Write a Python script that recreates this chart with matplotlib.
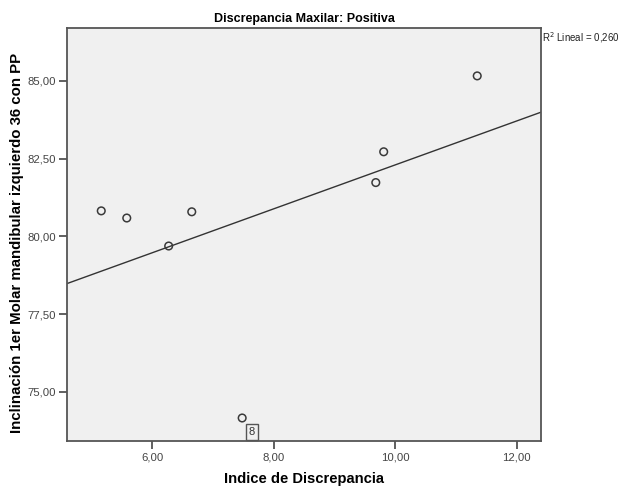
import numpy as np
import matplotlib
matplotlib.use("Agg")
import matplotlib.pyplot as plt

# Data
indice = [5.16, 5.58, 6.27, 6.65, 9.68, 9.81, 11.35, 7.48]
inclinacion = [80.82, 80.59, 79.69, 80.79, 81.73, 82.72, 85.16, 74.16]
case_labels = {7: "8"}
r2_text = "0,260"

x_ticks = [6, 8, 10, 12]
y_ticks = [75.0, 77.5, 80.0, 82.5, 85.0]

plt.rcParams["font.family"] = ["Liberation Sans", "DejaVu Sans"]

fig = plt.figure(figsize=(6.26, 4.91), dpi=100)
ax = fig.add_axes([67 / 626, 1 - 441 / 491, (541 - 67) / 626, (441 - 28) / 491])
ax.set_facecolor("#f0f0f0")

xa = np.array(indice)
ya = np.array(inclinacion)
ax.scatter(xa, ya, s=30, facecolors="none", edgecolors="#3a3a3a", linewidths=1.1, zorder=3)

# linear fit
slope, intercept = np.polyfit(xa, ya, 1)
xl = np.array([4.596, 12.40])
ax.plot(xl, slope * xl + intercept, color="#333333", lw=1.0, zorder=2)

for i, lab in case_labels.items():
    ax.annotate(lab, (xa[i], ya[i]), xytext=(7, -10), textcoords="offset points",
                fontsize=8, color="#333333", ha="center", va="center",
                bbox=dict(boxstyle="square,pad=0.25", fc="#f0f0f0", ec="#555555", lw=1.0))

ax.set_xlim(4.596, 12.40)
ax.set_ylim(73.42, 86.70)
ax.set_xticks(x_ticks)
ax.set_xticklabels([f"{v:.2f}".replace(".", ",") for v in x_ticks])
ax.set_yticks(y_ticks)
ax.set_yticklabels([f"{v:.2f}".replace(".", ",") for v in y_ticks])
ax.tick_params(direction="out", length=6, width=1.2, colors="#444444", labelsize=8.2,
               labelcolor="#444444", pad=2)

for s in ax.spines.values():
    s.set_color("#555555")
    s.set_linewidth(1.3)

ax.set_title("Discrepancia Maxilar: Positiva", fontsize=9, fontweight="bold", pad=4)
ax.set_xlabel("Indice de Discrepancia", fontsize=10.6, fontweight="bold", va="center")
ax.xaxis.set_label_coords(0.5, (441 - 479) / 413)
ax.set_ylabel("Inclinación 1er Molar mandibular izquierdo 36 con PP", fontsize=10.8,
              fontweight="bold", va="center")
ax.yaxis.set_label_coords((17 - 67) / 474, 0.48)

fig.text(542 / 626, 1 - 38 / 491, "R$^2$ Lineal = " + r2_text,
         fontsize=7, ha="left", va="center", color="#222222")

fig.savefig("out.png", dpi=100)
